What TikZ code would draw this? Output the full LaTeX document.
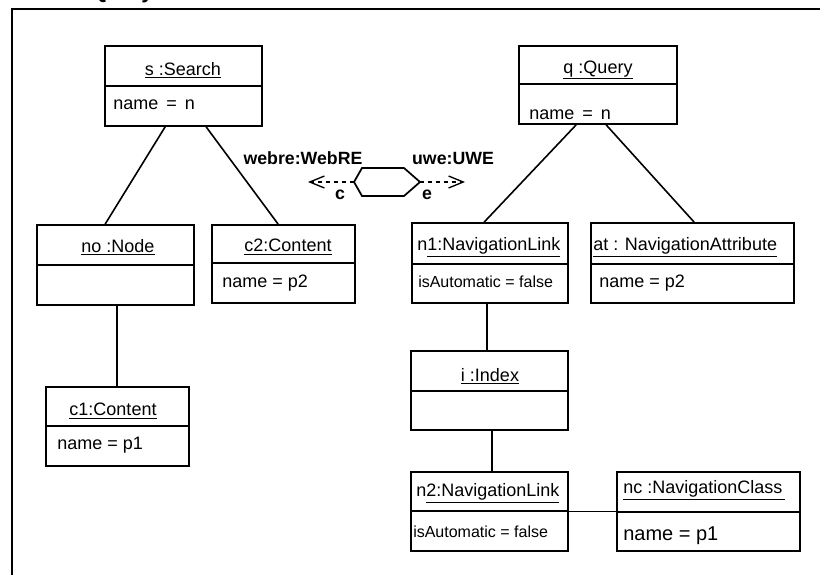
\documentclass[tikz,border=0pt]{standalone}
\usepackage{fontspec}
\setmainfont{Liberation Sans}
\usetikzlibrary{fit,calc,arrows.meta}
\begin{document}
\begin{tikzpicture}[x=0.75pt,y=-0.75pt,
  box/.style={draw, line width=1.3pt, inner sep=0pt},
  div/.style={line width=0.9pt},
  link/.style={line width=1.2pt},
  ttl/.style={font=\fontsize{13.5}{15}\selectfont, inner sep=0pt},
  ttlw/.style={font=\fontsize{13.5}{15}\selectfont, inner sep=0pt, anchor=west},
  attr/.style={font=\fontsize{13.5}{15}\selectfont, inner sep=0pt, anchor=west},
  bigattr/.style={font=\fontsize{15}{17}\selectfont, inner sep=0pt, anchor=west},
  sattr/.style={font=\fontsize{12}{14}\selectfont, inner sep=0pt, anchor=west},
  lbl/.style={font=\bfseries\fontsize{13.3}{15}\selectfont, inner sep=0pt},
  dep/.style={line width=1pt, dashed, -{Straight Barb[length=11pt,width=9pt,line width=1pt]}},
]
\useasboundingbox (0,0) rectangle (820,575);
\clip (0,0) rectangle (820,575);
% frame and clipped title
\node[font=\bfseries\fontsize{16}{18}\selectfont, inner sep=0pt, anchor=base west] (title) at (13,-2) {Source Query};
\draw[line width=1pt] (12,575) -- (12,9) -- (820,9);

% s :Search
\node[box, fit={(105,46) (262,126)}] (s) {};
\draw[div] (105,86) -- (262,86);
\node[ttl] (sT) at (183,70) {\underline{s :Search}};
\node[attr] (sA) at (113,105) {name \,=\, n};

% no :Node
\node[box, fit={(37,225) (194,305)}] (no) {};
\draw[div] (37,265) -- (194,265);
\node[ttl] (noT) at (118,247) {\underline{no :Node}};

% c2:Content
\node[box, fit={(212,225) (355,303)}] (c2) {};
\draw[div] (212,263) -- (355,263);
\node[ttl] (c2T) at (288,247) {\underline{c2:Content}};
\node[attr] (c2A) at (222,283) {name = p2};

% c1:Content
\node[box, fit={(46,387) (189,466)}] (c1) {};
\draw[div] (46,426) -- (189,426);
\node[ttl] (c1T) at (113,411) {\underline{c1:Content}};
\node[attr] (c1A) at (57,445) {name = p1};

% q :Query
\node[box, fit={(519,46) (677,124)}] (q) {};
\draw[div] (519,84) -- (677,84);
\node[ttl] (qT) at (598,70) {\underline{q :Query}};
\node[attr] (qA) at (529,115) {name \,=\, n};

% n1:NavigationLink
\node[box, fit={(412,223) (568,303)}] (n1) {};
\draw[div] (412,264) -- (568,264);
\node[ttlw] (n1T) at (417,247) {n\underline{1:NavigationLink}};
\node[sattr] (n1A) at (418,282) {isAutomatic = false};

% at : NavigationAttribute
\node[box, fit={(591,223) (794,303)}] (at) {};
\draw[div] (591,264) -- (794,264);
\node[ttlw] (atT) at (593,247) {\underline{at : NavigationAttribute}};
\node[attr] (atA) at (599,283) {name = p2};

% i :Index
\node[box, fit={(411,351) (568,430)}] (ix) {};
\draw[div] (411,391) -- (568,391);
\node[ttl] (ixT) at (490,376) {\underline{i :Index}};

% n2:NavigationLink
\node[box, fit={(411,472) (568,551)}] (n2) {};
\draw[div] (411,511) -- (568,511);
\node[ttlw] (n2T) at (416,493) {n\underline{2:NavigationLink}};
\node[sattr] (n2A) at (413,532) {isAutomatic = false};

% nc :NavigationClass
\node[box, fit={(617,472) (800,551)}] (nc) {};
\draw[div] (617,512) -- (800,512);
\node[ttlw] (ncT) at (623,490) {\underline{nc :NavigationClass\,}};
\node[bigattr] (ncA) at (623,536) {name = p1};

% links
\draw[link] ($(s.south west)+(61,0)$) -- ($(no.north west)+(69,0)$);
\draw[link] ($(s.south west)+(102,0)$) -- ($(c2.north west)+(67,0)$);
\draw[link] ($(no.south west)+(81,0)$) -- ($(c1.north west)+(72,0)$);
\draw[link] ($(q.south west)+(58,0)$) -- ($(n1.north west)+(73,0)$);
\draw[link] ($(q.south west)+(88,0)$) -- ($(at.north west)+(104,0)$);
\draw[link] ($(n1.south west)+(76,0)$) -- ($(ix.north west)+(77,0)$);
\draw[link] ($(ix.south west)+(82,0)$) -- ($(n2.north west)+(82,0)$);
\draw[link] (n2.east) -- (nc.west);

% transformation hexagon
\coordinate (hexL) at (354,182);
\coordinate (hexR) at (420,182);
\coordinate (cEnd) at (308,182);
\coordinate (eEnd) at (465,182);
\draw[line width=1.3pt, line join=miter] (hexL) -- ++(8,-14) -- ++(42,0) -- (hexR) -- ++(-16,14) -- ++(-42,0) -- cycle;
\draw[dep] (hexL) -- (cEnd);
\draw[dep] (hexR) -- (eEnd);
\node[lbl] (webre) at (303,158) {webre:WebRE};
\node[lbl] (uwe) at (453,158) {uwe:UWE};
\node[lbl] (cl) at (340,195) {c};
\node[lbl] (el) at (427,195) {e};
\end{tikzpicture}
\end{document}
